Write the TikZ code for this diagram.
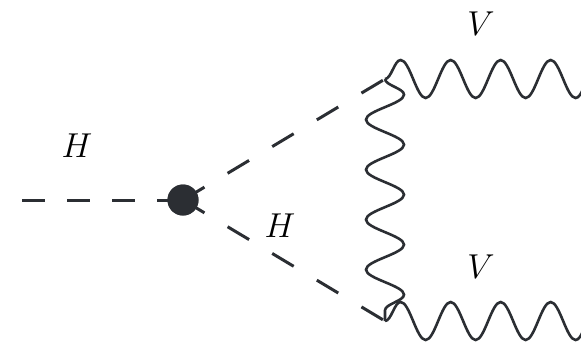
\documentclass[tikz,border=0pt]{standalone}
\usetikzlibrary{decorations.pathmorphing}
\definecolor{ink}{HTML}{2B2E33}
\tikzset{
  higgs/.style={draw=ink, line width=1.5pt, dash pattern=on 12.5pt off 13.5pt},
  higgsleft/.style={draw=ink, line width=1.5pt, dash pattern=on 11.5pt off 11pt},
  boson/.style={draw=ink, line width=1.3pt, decorate, decoration={snake, segment length=25pt, amplitude=9.5pt}},
  blob/.style={circle, fill=ink, minimum size=15.5pt, inner sep=0pt},
  lbl/.style={font=\fontsize{18}{22}\selectfont, inner sep=0pt}
}
\begin{document}
\begin{tikzpicture}[x=0.5pt, y=-0.5pt]
\path[use as bounding box] (0,0) rectangle (581,344);
\coordinate (in) at (22,200);
\coordinate (top) at (385,79);
\coordinate (bot) at (385,321);
\coordinate (outT) at (600,79);
\coordinate (outB) at (600,321);
\node[blob] (b) at (183,200) {};
\draw[higgsleft] (in) -- (b.center);
\draw[higgs] (b.center) -- (top);
\draw[higgs] (b.center) -- (bot);
\draw[boson] (top) -- (bot);
\draw[boson] (top) -- (outT);
\draw[boson] (bot) -- (outB);
\node[blob] at (b) {};
\node[lbl] (l1) at (77,146) {$H$};
\node[lbl] (l2) at (280,226) {$H$};
\node[lbl] (l3) at (481,24) {$V$};
\node[lbl] (l4) at (481,267) {$V$};
\end{tikzpicture}
\end{document}
